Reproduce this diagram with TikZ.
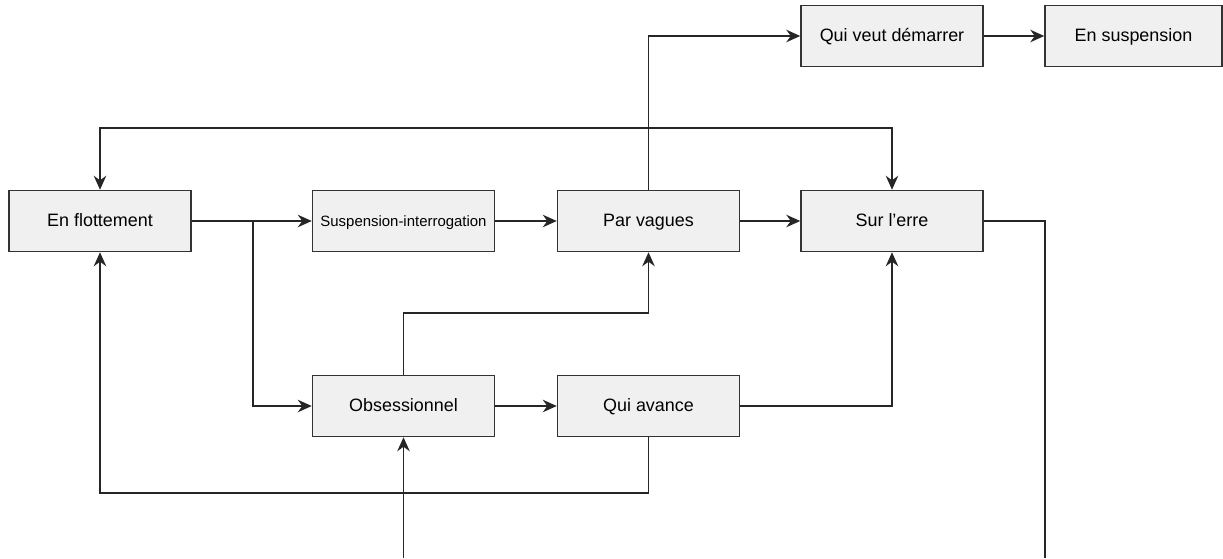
\documentclass[tikz,border=0pt]{standalone}
\usepackage{fontspec}
\setmainfont{Liberation Sans}
\usetikzlibrary{arrows.meta}
\tikzset{every node/.style={align=center}}
\tikzstyle{etat} = [draw=black!80, fill=black!6, line width=0.85pt, minimum width=3.64cm, minimum height=1.22cm, inner sep=0pt, text height=0.8em, text depth=0.14em, font=\fontsize{10.2}{12}\selectfont]
\tikzstyle{trait} = [line width=0.9pt, draw=black!85]
\tikzstyle{fleche} = [trait, -{Stealth[length=2.8mm, width=2.5mm, inset=0.9mm]}]
\tikzstyle{doublefleche} = [trait, {Stealth[length=2.8mm, width=2.5mm, inset=0.9mm]}-{Stealth[length=2.8mm, width=2.5mm, inset=0.9mm]}]

\begin{document}
\begin{tikzpicture}[x=0.02cm, y=-0.02cm]
		\useasboundingbox (0,0) rectangle (1223,558);

		% States
		\node[etat] (flottement) at (100,221) {En flottement};
		\node[etat, font=\fontsize{8.5}{10}\selectfont] (suspinter) at (403.5,221) {Suspension-interrogation};
		\node[etat] (vagues) at (648.5,221) {Par vagues};
		\node[etat] (erre) at (892,221) {Sur l’erre};
		\node[etat] (demarrer) at (892,36) {Qui veut démarrer};
		\node[etat, minimum width=3.54cm] (suspension) at (1133.5,36) {En suspension};
		\node[etat] (obsession) at (403.5,406) {Obsessionnel};
		\node[etat] (avance) at (648.5,406) {Qui avance};

		%% Free ends and bends
		\coordinate (branche) at (253,221);
		\coordinate (haut) at (500,128);
		\coordinate (milieu) at (525,313);
		\coordinate (bas) at (400,493);
		\coordinate (entree) at (403.5,558);
		\coordinate (sortie) at (1045,558);

		% Connectors
		\draw[fleche] (flottement) -- (suspinter);
		\draw[fleche] (branche) |- (obsession);
		\draw[fleche] (suspinter) -- (vagues);
		\draw[fleche] (vagues) -- (erre);
		\draw[fleche] (vagues) |- (demarrer);
		\draw[fleche] (demarrer) -- (suspension);
		\draw[doublefleche] (flottement) |- (haut) -| (erre);
		\draw[fleche] (obsession) |- (milieu) -| (vagues);
		\draw[fleche] (obsession) -- (avance);
		\draw[fleche] (avance) -| (erre);
		\draw[fleche] (avance) |- (bas) -| (flottement);
		\draw[fleche] (entree) -- (obsession);
		\draw[trait] (erre) -| (sortie);
	\end{tikzpicture}
\end{document}
